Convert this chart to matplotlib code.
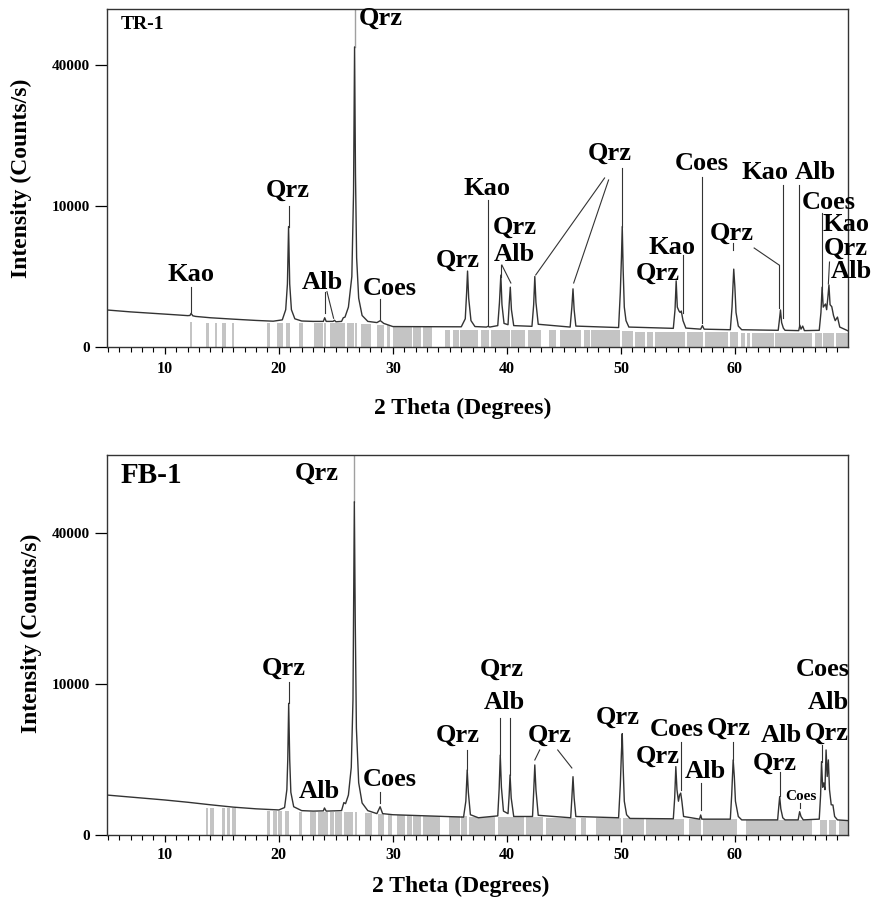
import numpy as np
import matplotlib
matplotlib.use("Agg")
import matplotlib.pyplot as plt
from matplotlib.ticker import FixedLocator, MultipleLocator

plt.rcParams["font.family"] = ["Liberation Serif", "DejaVu Serif"]
plt.rcParams["font.weight"] = "bold"

# ---- TR-1 pattern (2 theta, counts/s) ----
tth_tr = [4.9, 7, 9, 10, 11, 12, 12.2, 12.3, 12.45, 12.7, 14, 16, 18, 19.5, 20.3, 20.6, 20.75, 20.85,
          20.95, 21.1, 21.4, 22, 23, 23.9, 24.02, 24.15, 24.75, 24.88, 25.0, 25.5, 25.65, 25.8, 26.1,
          26.4, 26.55, 26.64, 26.72, 26.82, 27.0, 27.3, 27.8, 28.6, 28.9, 29.2, 30, 32, 34, 36.0, 36.35,
          36.47, 36.55, 36.65, 36.85, 37.2, 38.2, 38.35, 38.5, 39.2, 39.35, 39.47, 39.57, 39.75, 40.1,
          40.2, 40.3, 40.4, 40.6, 42.2, 42.35, 42.45, 42.55, 42.75, 45.55, 45.7, 45.8, 45.9, 46.05,
          49.8, 49.95, 50.05, 50.12, 50.2, 50.3, 50.45, 50.7, 54.6, 54.75, 54.85, 54.95, 55.1, 55.2,
          55.3, 55.45, 55.7, 57.0, 57.15, 57.3, 59.6, 59.75, 59.9, 60.0, 60.1, 60.3, 60.6, 63.8, 63.9,
          64.0, 64.1, 64.25, 64.4, 65.6, 65.7, 65.8, 65.95, 66.1, 67.4, 67.55, 67.65, 67.75, 67.95,
          68.05, 68.15, 68.25, 68.35, 68.5, 68.65, 68.8, 69.0, 69.2, 70]
cps_tr = [690, 620, 570, 545, 520, 495, 500, 570, 490, 470, 430, 390, 355, 335, 370, 700, 2000, 7300,
          2000, 700, 400, 340, 330, 330, 430, 330, 330, 360, 320, 330, 430, 450, 800,
          2500, 12000, 45300, 15000, 4000, 1200, 500, 330, 300, 350, 280, 210, 208, 205, 205, 400,
          1500, 2900, 1200, 350, 210, 200, 215, 200, 230, 1000, 2600, 900, 280, 250,
          900, 1800, 700, 230, 215, 900, 2500, 1000, 260, 200, 800, 1700, 700, 220,
          190, 1500, 4000, 7300, 3000, 800, 350, 200, 175, 700, 2200, 800, 650, 600,
          650, 350, 180, 160, 230, 160, 150, 800, 3050, 1800, 600, 220, 150, 140, 350,
          690, 300, 180, 140, 135, 240, 160, 220, 135, 140, 600, 1800, 800, 930,
          700, 1200, 1935, 900, 817, 500, 350, 450, 200, 125]

# ---- FB-1 pattern ----
tth_fb = [4.9, 7, 10, 12, 14, 16, 18, 20, 20.5, 20.7, 20.78, 20.86, 20.95, 21.05, 21.3, 22, 23, 23.9,
          24.0, 24.15, 25.5, 25.7, 25.85, 26.1, 26.35, 26.5, 26.62, 26.7, 26.8, 27.0, 27.3, 27.8,
          28.6, 28.88, 29.1, 30, 33, 36.2, 36.4, 36.52, 36.62, 36.8, 37.5, 39.2, 39.32, 39.42, 39.52,
          39.7, 40.1, 40.2, 40.28, 40.38, 40.6, 42.25, 42.35, 42.45, 42.55, 42.75, 45.6, 45.7, 45.8,
          45.9, 46.05, 49.8, 49.95, 50.05, 50.12, 50.2, 50.3, 50.5, 50.8, 54.6, 54.72, 54.82, 54.92,
          55.05, 55.15, 55.25, 55.35, 55.5, 56.9, 57.0, 57.1, 59.6, 59.72, 59.85, 59.95, 60.05, 60.3,
          60.6, 63.75, 63.85, 63.93, 64.03, 64.2, 64.4, 65.55, 65.68, 65.8, 66.0, 67.4, 67.52, 67.6,
          67.7, 67.8, 67.9, 68.0, 68.1, 68.2, 68.3, 68.45, 68.6, 68.75, 69.0, 70]
cps_fb = [700, 630, 537, 470, 400, 340, 300, 275, 330, 900, 2500, 7600, 2500, 800, 350, 260, 250, 255,
          320, 250, 260, 460, 430, 700, 2000, 8000, 48700, 20000, 5000, 1200, 450, 260,
          200, 350, 200, 180, 160, 140, 500, 1850, 800, 180, 130, 160, 900, 2800, 1000,
          250, 200, 700, 1580, 600, 150, 150, 800, 2150, 900, 170, 130, 600, 1490,
          600, 150, 130, 1100, 3000, 4500, 2000, 500, 180, 120, 115, 600, 2050, 900,
          500, 700, 770, 500, 150, 110, 175, 110, 110, 700, 2470, 1500, 500, 150,
          100, 100, 350, 645, 300, 130, 100, 100, 238, 150, 100, 110, 700, 2360,
          1000, 1190, 900, 3170, 1500, 2470, 900, 400, 395, 150, 100, 90]

# ---- reference stick pattern blocks: (start, end, height) ----
sticks_tr = [(12.2, 12.4, 320), (13.6, 13.9, 300), (14.36, 14.54, 300), (15.03, 15.24, 300),
             (15.3, 15.4, 300), (15.9, 16.1, 300), (19.0, 19.26, 290), (19.8, 20.37, 290),
             (20.6, 20.95, 290), (21.8, 22.1, 280), (23.05, 23.86, 280), (24.0, 24.15, 280),
             (24.5, 25.8, 280), (26.0, 26.55, 280), (26.7, 26.85, 280), (27.2, 28.06, 260),
             (28.65, 29.23, 250), (29.46, 29.76, 240), (30.05, 31.65, 220), (31.8, 32.5, 200),
             (32.6, 33.4, 200), (34.6, 35.0, 150), (35.24, 35.8, 150), (35.9, 37.5, 150),
             (37.7, 38.45, 150), (38.65, 40.26, 150), (40.4, 41.57, 150), (41.86, 43.0, 145),
             (43.7, 44.33, 145), (44.63, 46.5, 145), (46.8, 47.25, 140), (47.4, 49.9, 140),
             (50.1, 51.05, 130), (51.2, 52.1, 120), (52.3, 52.8, 120), (52.95, 55.6, 115),
             (55.8, 57.2, 110), (57.4, 59.4, 110), (59.6, 60.3, 110), (60.5, 60.9, 105),
             (61.05, 61.3, 105), (61.5, 63.4, 100), (63.55, 66.8, 100), (67.0, 67.6, 100),
             (67.75, 68.7, 100), (68.9, 70.0, 100)]
sticks_fb = [(13.57, 13.8, 330), (13.95, 14.3, 330), (15.03, 15.3, 320), (15.45, 15.7, 320),
             (15.9, 16.2, 320), (18.97, 19.2, 260), (19.5, 19.8, 260), (19.95, 20.3, 260),
             (20.5, 20.86, 260), (21.74, 22.0, 240), (22.76, 23.3, 240), (23.45, 24.3, 240),
             (24.45, 24.8, 240), (24.95, 25.5, 240), (25.7, 26.5, 240), (26.7, 26.85, 240),
             (27.57, 28.16, 220), (28.7, 29.2, 200), (29.6, 29.9, 200), (30.35, 31.07, 180),
             (31.2, 31.65, 180), (31.8, 32.5, 170), (32.6, 34.1, 160), (34.9, 35.9, 150),
             (36.0, 36.47, 150), (36.7, 39.0, 140), (39.2, 41.5, 140), (41.7, 43.2, 140),
             (43.4, 46.1, 130), (46.5, 46.9, 130), (47.8, 50.0, 125), (50.2, 52.0, 120),
             (52.2, 55.57, 115), (56.0, 57.0, 110), (57.2, 60.2, 110), (60.96, 66.77, 105),
             (67.5, 68.1, 100), (68.3, 68.9, 100), (69.1, 70.0, 100)]

# ---- phase labels: (text, 2theta, counts, size) ----
labels_tr = [("Qrz", 28.9, 54400, 19), ("Qrz", 20.75, 12400, 19), ("Kao", 12.26, 2610, 19),
             ("Alb", 23.8, 2125, 19), ("Coes", 29.76, 1750, 19), ("Qrz", 35.7, 3810, 19),
             ("Kao", 38.25, 12560, 19), ("Qrz", 40.7, 7240, 19), ("Alb", 40.7, 4260, 19),
             ("Qrz", 49.0, 18930, 19), ("Coes", 57.06, 17030, 19), ("Kao", 54.5, 5030, 19),
             ("Qrz", 53.2, 2755, 19), ("Qrz", 59.7, 6540, 19), ("Kao", 62.6, 15230, 19),
             ("Alb", 67.06, 15230, 19), ("Coes", 68.25, 10575, 19), ("Kao", 69.74, 7490, 19),
             ("Qrz", 69.74, 4930, 19), ("Alb", 70.2, 2830, 19)]
labels_fb = [("Qrz", 23.3, 57470, 19), ("Qrz", 20.4, 12230, 19), ("Alb", 23.55, 811, 19),
             ("Coes", 29.76, 1327, 19), ("Qrz", 35.7, 4386, 19), ("Qrz", 39.56, 12085, 19),
             ("Alb", 39.82, 7640, 19), ("Qrz", 43.76, 4386, 19), ("Qrz", 49.7, 6107, 19),
             ("Coes", 54.87, 4835, 19), ("Qrz", 53.2, 2737, 19), ("Alb", 57.4, 1740, 19),
             ("Qrz", 59.5, 5021, 19), ("Alb", 64.06, 4298, 19), ("Qrz", 63.53, 2274, 19),
             ("Coes", 65.8, 633, 11), ("Coes", 67.73, 11940, 19), ("Alb", 68.17, 7640, 19),
             ("Qrz", 68.04, 4563, 19)]

# leader lines: (x0, y0, x1, y1)
leaders_tr = [(12.3, 1810, 12.3, 600), (20.85, 10000, 20.85, 7300), (24.07, 1540, 24.07, 570),
              (24.22, 1540, 24.8, 415), (28.9, 1160, 28.9, 400), (38.33, 10870, 38.33, 230),
              (39.47, 3380, 39.47, 2460), (39.56, 3380, 40.35, 2060), (48.57, 14370, 42.53, 2610),
              (48.92, 14030, 45.86, 2060), (50.08, 16120, 50.08, 7240), (57.14, 14540, 57.14, 290),
              (55.48, 4260, 55.48, 580), (59.86, 5440, 59.86, 4730), (61.69, 4930, 63.88, 3380),
              (63.88, 3380, 63.88, 765), (64.23, 13200, 64.23, 423), (65.63, 13200, 65.63, 243),
              (67.64, 9030, 67.64, 1630), (68.3, 3630, 68.2, 2000)]
leaders_fb = [(20.86, 10270, 20.86, 7600), (28.88, 811, 28.88, 449), (36.5, 3169, 36.5, 1850),
              (39.42, 6004, 39.42, 2807), (40.28, 6004, 40.28, 1579), (42.88, 3169, 42.45, 2467),
              (44.46, 3169, 45.7, 1969), (55.3, 3793, 55.3, 888), (57.06, 1186, 57.06, 274),
              (59.86, 3793, 59.86, 2467), (63.93, 1740, 63.93, 667), (65.7, 449, 65.7, 320),
              (67.6, 3552, 67.6, 2337)]

yticks = [0, 10000, 40000]


def sqrt_fwd(v):
    return np.sqrt(np.clip(v, 0, None))


def sqrt_inv(v):
    return np.asarray(v) ** 2


def draw_panel(ax, tth, cps, sticks, labels, leaders, main_pos, main_top, ymax, name, name_size,
               ylab_xy, xlab_xy, tick_pad):
    ax.set_yscale("function", functions=(sqrt_fwd, sqrt_inv))
    for lo, hi, h in sticks:
        ax.fill_between([lo, hi], 0, h, color="#c4c4c4", lw=0, zorder=1)
    ax.plot(tth, cps, color="#333333", lw=1.0, zorder=3)
    ax.plot([main_pos, main_pos], [main_top, ymax], color="#a0a0a0", lw=1.0, zorder=2)
    for x0, y0, x1, y1 in leaders:
        ax.plot([x0, x1], [y0, y1], color="#333333", lw=0.8, zorder=2)
    for txt, x, y, s in labels:
        ax.text(x, y, txt, ha="center", va="center", fontsize=s, fontweight="bold", zorder=4)
    ax.text(0.018, name[1], name[0], transform=ax.transAxes, ha="left", va="center",
            fontsize=name_size, fontweight="bold")

    ax.set_xlim(4.92, 69.92)
    ax.set_ylim(0, ymax)
    ax.yaxis.set_major_locator(FixedLocator(yticks))
    ax.yaxis.set_minor_locator(FixedLocator([]))
    ax.xaxis.set_major_locator(MultipleLocator(10))
    ax.xaxis.set_minor_locator(MultipleLocator(1))
    ax.tick_params(axis="y", direction="out", length=8.5, width=0.9, pad=4, labelsize=11)
    ax.tick_params(axis="x", which="major", direction="out", length=5, width=0.9, pad=tick_pad,
                   labelsize=11.5)
    ax.tick_params(axis="x", which="minor", direction="out", length=3.5, width=0.8)
    for lab in ax.get_xticklabels() + ax.get_yticklabels():
        lab.set_fontweight("bold")
    for sp in ax.spines.values():
        sp.set_color("#333333")
        sp.set_linewidth(1.0)
    ax.set_ylabel("Intensity (Counts/s)", fontsize=17, fontweight="bold")
    ax.set_xlabel("2 Theta (Degrees)", fontsize=17, fontweight="bold")
    ax.yaxis.set_label_coords(*ylab_xy)
    ax.xaxis.set_label_coords(*xlab_xy)


fig = plt.figure(figsize=(8.76, 9.02), dpi=100)
ax1 = fig.add_axes([0.1221, 0.6153, 0.8459, 0.3747])
ax2 = fig.add_axes([0.1221, 0.0743, 0.8459, 0.4213])

draw_panel(ax1, tth_tr, cps_tr, sticks_tr, labels_tr, leaders_tr, 26.64, 45300, 57460,
           ("TR-1", 0.953), 14, (-0.101, 0.50), (0.48, -0.151), 5)
draw_panel(ax2, tth_fb, cps_fb, sticks_fb, labels_fb, leaders_fb, 26.62, 48700, 63330,
           ("FB-1", 0.947), 21, (-0.088, 0.53), (0.478, -0.108), 3.5)

fig.savefig("out.png", dpi=100)
